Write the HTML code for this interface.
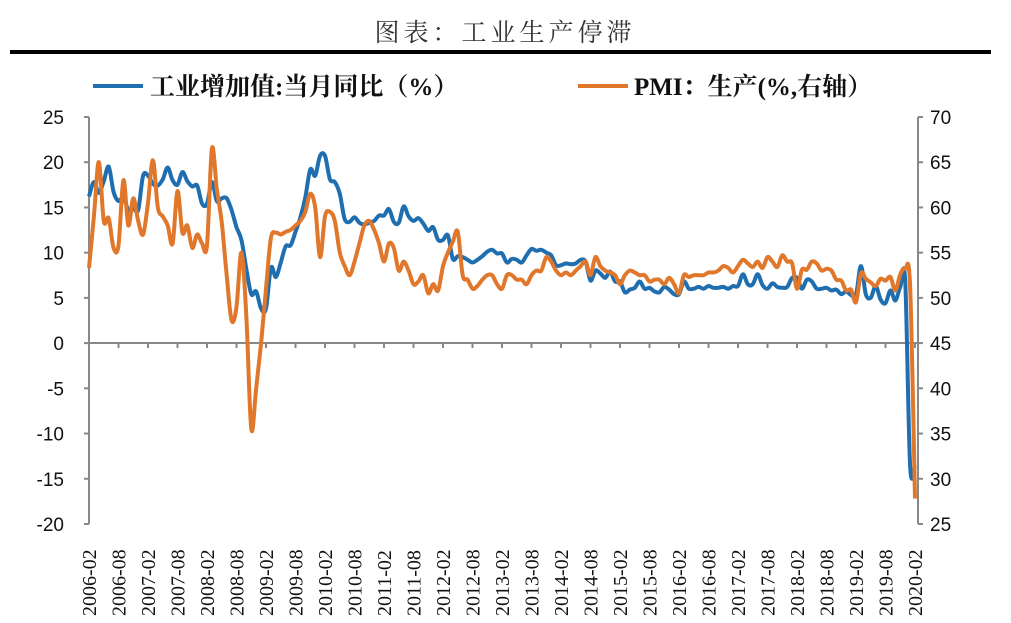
<!DOCTYPE html>
<html><head><meta charset="utf-8"><style>
html,body{margin:0;padding:0;background:#fff;width:1011px;height:623px;overflow:hidden}
svg{display:block}
</style></head><body>
<svg id="s" width="1011" height="623" xmlns="http://www.w3.org/2000/svg">
<text x="505" y="41" text-anchor="middle" font-family="Liberation Serif, Noto Serif CJK SC, serif" font-size="25" fill="#333" letter-spacing="4">图表：工业生产停滞</text>
<rect x="10" y="50" width="981" height="4" fill="#000"/>
<line x1="93" y1="86" x2="143" y2="86" stroke="#1f6fb0" stroke-width="4"/>
<text x="150" y="95" font-family="Liberation Serif, Noto Serif CJK SC, serif" font-size="25" font-weight="bold" fill="#111">工业增加值:当月同比（%）</text>
<line x1="578" y1="86" x2="628" y2="86" stroke="#e0772a" stroke-width="4"/>
<text x="634" y="95" font-family="Liberation Serif, Noto Serif CJK SC, serif" font-size="25" font-weight="bold" fill="#111">PMI：生产(%,右轴）</text>
<g id="g"></g>
</svg>
<script>
var B=[[17,16.2,17.8,16.6,17.9,19.5,16.7,15.7,16.1,14.7,14.9,14.7],
[18.5,17.6,17.4,18.1,19.4,18.0,17.5,18.9,17.9,17.3,17.4],
[15.4,17.8,15.7,16.0,16.0,14.7,12.8,11.4,8.2,5.4,5.7],
[3.8,8.3,7.3,8.9,10.7,10.8,12.3,13.9,16.1,19.2,18.5],
[20.7,18.1,17.8,16.5,13.7,13.4,13.9,13.3,13.1,13.3,13.5],
[14.1,14.8,13.4,13.3,15.1,14.0,13.5,13.8,13.2,12.4,12.8],
[11.4,11.9,9.3,9.6,9.5,9.2,8.9,9.2,9.6,10.1,10.3],
[9.9,8.9,9.3,9.2,8.9,9.7,10.4,10.2,10.3,10.0,9.7],
[8.6,8.8,8.7,8.8,9.2,9.0,6.9,8.0,7.7,7.2,7.9],
[6.8,5.6,5.9,6.1,6.8,6.0,6.1,5.7,5.6,6.2,5.9],
[5.4,6.8,6.0,6.0,6.2,6.0,6.3,6.1,6.1,6.2,6.0],
[6.3,7.6,6.5,6.5,7.6,6.4,6.0,6.6,6.2,6.1,6.2],
[7.2,6.0,7.0,6.8,6.0,6.0,6.1,5.8,5.9,5.4,5.7],
[5.3,8.5,5.4,5.0,6.3,4.8,4.4,5.8,4.7,6.2,6.9],
[-13.5]];
var b=[];B.forEach(function(y,k){if(k==0){b=b.concat(y.slice(1));}else{b.push(y[0]);b=b.concat(y);}});
var O=[53.3,59,65,58.5,58.8,55.5,55.8,63,58.0,61,58.5,
57,60.5,65.2,60,59,58,56,61.8,57.2,58,55.5,57,
56,55.8,66.5,62,58.3,52.5,47.5,49,55,48,35.5,40,
45,51,56.6,57.2,57,57.3,57.5,58,58.5,59.5,61.5,60,
54.5,59,59.5,58.5,55,53.5,52.5,54,56,58,58.5,57.5,
56,54,56,55.5,53,54,53,51.5,51.8,52.5,50.5,51.5,
50.8,53.5,55,56.2,57.3,52.5,52,51,51.3,52,52.5,52.5,
51.5,51,52.5,52.5,52,52,51.5,52.5,53,53,54.5,54,
53,52.5,52.8,52.5,53,53.5,54,52.5,54.5,53.5,53,52.8,
52.5,51.5,52.5,53,52.8,52.5,52.5,51.8,52,52,51.5,52.2,
51.5,50.5,52.5,52.3,52.5,52.5,52.5,52.8,52.8,53,53.5,53.3,
52.8,53.5,54.2,53.8,53.4,54,53.3,54.5,54,53.4,54.7,54,
53.8,51,53.1,53.1,54,53.8,53,53.2,53,52,51.9,50.8,
50.9,49.5,52.7,52.1,51.7,51.3,52.1,51.9,52.3,50.8,52.6,53.2,
51.3,27.8];
var x0=89,st=826/168,yz=343,u=9.044;
function X(i){return x0+i*st}
var h='';
var sans='font-family="Liberation Sans, sans-serif" font-size="19" fill="#111"';
h+='<line x1="89" y1="117" x2="89" y2="524" stroke="#888" stroke-width="2"/>';
h+='<line x1="918" y1="117" x2="918" y2="524" stroke="#888" stroke-width="2"/>';
for(var v=25,k=0;v>=-20;v-=5,k++){var y=117+k*45.22;
h+='<line x1="84" y1="'+y+'" x2="89" y2="'+y+'" stroke="#888" stroke-width="2"/>';
h+='<line x1="918" y1="'+y+'" x2="923" y2="'+y+'" stroke="#888" stroke-width="2"/>';
h+='<text x="64" y="'+(y+7)+'" text-anchor="end" '+sans+'>'+v+'</text>';
h+='<text x="930" y="'+(y+7)+'" '+sans+'>'+(70-5*k)+'</text>';}
h+='<line x1="89" y1="343" x2="918" y2="343" stroke="#888" stroke-width="2"/>';
for(var i=0;i<=168;i+=6){var x=X(i);
h+='<line x1="'+x+'" y1="343" x2="'+x+'" y2="348" stroke="#888" stroke-width="2"/>';
var yr=2006+Math.floor((i+1)/12), m=(i%12==0)?'02':'08';
h+='<text transform="translate('+(x+7)+',616) rotate(-90)" font-family="Liberation Serif, serif" font-size="20" fill="#111">'+yr+'-'+m+'</text>';}
function path(a,f,c){var P=a.map(function(v,i){return [X(i),f(v)]});
var p='M'+P[0][0].toFixed(1)+','+P[0][1].toFixed(1);
for(var i=0;i<P.length-1;i++){var p0=P[i-1]||P[i],p1=P[i],p2=P[i+1],p3=P[i+2]||p2;
var c1x=p1[0]+(p2[0]-p0[0])/6,c1y=p1[1]+(p2[1]-p0[1])/6,c2x=p2[0]-(p3[0]-p1[0])/6,c2y=p2[1]-(p3[1]-p1[1])/6;
p+='C'+c1x.toFixed(1)+','+c1y.toFixed(1)+' '+c2x.toFixed(1)+','+c2y.toFixed(1)+' '+p2[0].toFixed(1)+','+p2[1].toFixed(1);}
return '<path d="'+p+'" fill="none" stroke="'+c+'" stroke-width="4" stroke-linejoin="round"/>';}
h+=path(b,function(v){return yz-v*u},'#1f6fb0');
h+=path(O,function(v){return yz-(v-45)*u},'#e0772a');
document.getElementById('g').innerHTML=h;
</script>
</body></html>
